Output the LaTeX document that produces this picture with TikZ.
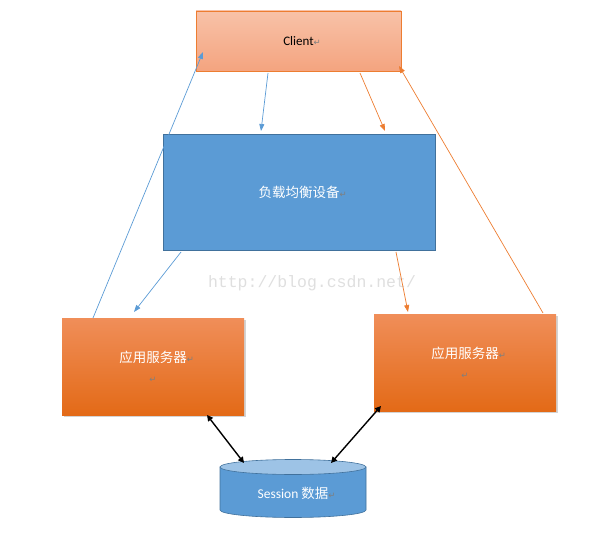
\documentclass[tikz,border=0pt]{standalone}
\usepackage{fontspec}
\setmainfont{Carlito}
\newfontfamily\cjk{Noto Sans CJK SC}
\newfontfamily\symf{DejaVu Sans}
\newfontfamily\wmfont{Liberation Mono}
\usetikzlibrary{arrows.meta,shapes.geometric,shadows}
\definecolor{lineblue}{HTML}{5B9BD5}
\definecolor{lineorange}{HTML}{ED7D31}
\definecolor{boxblue}{HTML}{5B9BD5}
\definecolor{edgeblue}{HTML}{41719C}
\definecolor{lightblue}{HTML}{9DC3E6}
\definecolor{clienttop}{HTML}{F8C2A8}
\definecolor{clientbot}{HTML}{F4A47F}
\definecolor{srvtop}{HTML}{F08E59}
\definecolor{srvbot}{HTML}{E36A17}
\definecolor{retgray}{HTML}{7F7F7F}
\newcommand{\ret}{{\symf\fontsize{8.5}{9}\selectfont\color{retgray}↵}}
\tikzset{
  clientbox/.style={draw=lineorange, line width=0.8pt, top color=clienttop, bottom color=clientbot, minimum width=205pt, minimum height=60pt, inner sep=0pt, font=\fontsize{13}{15}\selectfont},
  lbbox/.style={draw=edgeblue, line width=0.8pt, fill=boxblue, minimum width=272pt, minimum height=116pt, inner sep=0pt, text=white, font=\cjk\fontsize{13.5}{16}\selectfont},
  srvbox/.style={top color=srvtop, bottom color=srvbot, draw=none, minimum width=182pt, minimum height=97pt, inner sep=0pt, text=white, align=center, font=\cjk\fontsize{13.5}{20}\selectfont, drop shadow={shadow xshift=1.5pt, shadow yshift=-1.5pt, opacity=0.35}},
  bluearrow/.style={draw=lineblue, line width=0.7pt, -{Triangle[length=7pt,width=5pt]}},
  orangearrow/.style={draw=lineorange, line width=0.7pt, -{Triangle[length=7pt,width=5pt]}},
  blackarrow/.style={draw=black, line width=1.4pt, {Triangle[length=6pt,width=6pt]}-{Triangle[length=6pt,width=6pt]}},
}
\begin{document}
\begin{tikzpicture}[x=1pt,y=-1pt]
\useasboundingbox (0,0) rectangle (607,545);

\node[clientbox] (client) at (298.5,41) {Client\rlap{\ret}};
\node[lbbox] (lb) at (299,192) {负载均衡设备\rlap{\ret}};
\node[srvbox] (srvL) at (153,366.5) {应用服务器\rlap{\ret}\\\ret};
\node[srvbox] (srvR) at (465,362.5) {应用服务器\rlap{\ret}\\\ret};

% session cylinder
\fill[boxblue, draw=edgeblue, line width=0.6pt] (220,467) -- (220,510) arc[start angle=180, end angle=0, x radius=73, y radius=7.5] -- (366,467) -- cycle;
\node[ellipse, fill=lightblue, draw=edgeblue, line width=0.6pt, minimum width=146pt, minimum height=15pt, inner sep=0pt] (dbtop) at (293,467) {};
\node[text=white, font=\fontsize{13.5}{15}\selectfont] (db) at (293,493) {Session {\cjk 数据}\rlap{\ret}};

% watermark
\node[text=gray!25, font=\wmfont\fontsize{16.5}{18}\selectfont, inner sep=0pt] (wm) at (312,283) {http://blog.csdn.net/};

% connector end points
\coordinate (a1s) at (93,318);
\coordinate (a1e) at (203,52);
\coordinate (a2s) at (268,73);
\coordinate (a2e) at (261,131);
\coordinate (a3s) at (360,73);
\coordinate (a3e) at (385,131);
\coordinate (a4s) at (181,252);
\coordinate (a4e) at (134,312);
\coordinate (a5s) at (396,252);
\coordinate (a5e) at (408,312);
\coordinate (a6s) at (543,313);
\coordinate (a6e) at (399,66);
\coordinate (b1s) at (207,415);
\coordinate (b1e) at (244,463);
\coordinate (b2s) at (381,406);
\coordinate (b2e) at (331,463);

\draw[bluearrow] (a1s) -- (a1e);
\draw[bluearrow] (a2s) -- (a2e);
\draw[orangearrow] (a3s) -- (a3e);
\draw[bluearrow] (a4s) -- (a4e);
\draw[orangearrow] (a5s) -- (a5e);
\draw[orangearrow] (a6s) -- (a6e);
\draw[blackarrow] (b1s) -- (b1e);
\draw[blackarrow] (b2s) -- (b2e);
\end{tikzpicture}
\end{document}
